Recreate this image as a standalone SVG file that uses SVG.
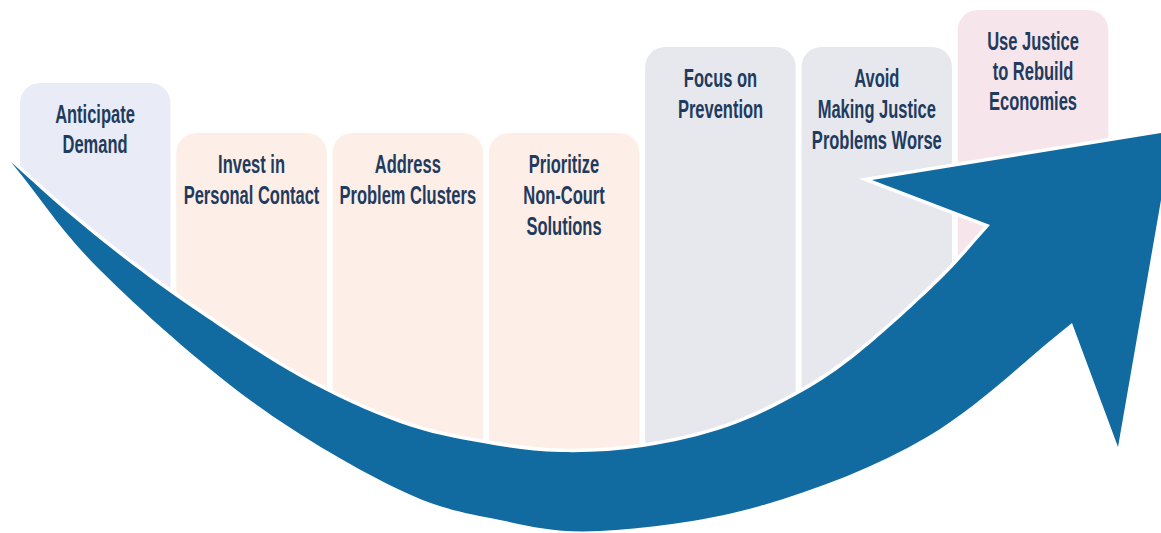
<svg xmlns="http://www.w3.org/2000/svg" width="1161" height="533" viewBox="0 0 1161 533">
  <style>
    .card-blue { fill: #E9ECF6; }
    .card-peach { fill: #FDEEE7; }
    .card-grey { fill: #E7E8EE; }
    .card-pink { fill: #F6E6EC; }
    .label { font-family: "Liberation Sans", Arial, sans-serif; font-size: 25px; font-weight: bold; fill: #1F3B5E; text-anchor: middle; }
    .arrow-halo { fill: #FFFFFF; stroke: #FFFFFF; stroke-width: 7; stroke-linejoin: miter; stroke-miterlimit: 10; }
    .arrow-body { fill: #126BA0; }
  </style>
  <defs>
    <!-- sweep arrow outline: tail, inner edge, head, outer edge -->
    <path id="sweep" d="M11,162
      C29.7,178.7 46.7,194.8 67,212
      C87.3,229.2 110.8,248.2 133,265
      C155.2,281.8 172.2,294.3 200,313
      C227.8,331.7 266.7,358.7 300,377
      C333.3,395.3 369.5,412 400,423
      C430.5,434 456.3,438.2 483,443
      C509.7,447.8 533.3,451.3 560,452
      C586.7,452.7 615.2,451.2 643,447
      C670.8,442.8 700.8,436 727,427
      C753.2,418 777.8,405.5 800,393
      C822.2,380.5 836.7,370.8 860,352
      C883.3,333.2 918.3,301.2 940,280
      C961.7,258.8 973.3,243.3 990,225
      L872,180 L1173,131 L1118,447 L1072,323
      C1023.7,361 979,406.5 927,437
      C875,467.5 814.5,490.3 760,506
      C705.5,521.7 643.3,528.7 600,531
      C556.7,533.3 533.3,526.8 500,520
      C466.7,513.2 441.7,510 400,490
      C358.3,470 300,436.7 250,400
      C200,363.3 139.8,309.7 100,270
      C60.2,230.3 40.7,198 11,162 Z"/>
    <!-- cards stop at the inner edge of the sweep -->
    <clipPath id="above-sweep">
      <path d="M0,0 H1161 V133 L872,180 L990,225
        C973.3,243.3 961.7,258.8 940,280
        C918.3,301.2 883.3,333.2 860,352
        C836.7,370.8 822.2,380.5 800,393
        C777.8,405.5 753.2,418 727,427
        C700.8,436 670.8,442.8 643,447
        C615.2,451.2 586.7,452.7 560,452
        C533.3,451.3 509.7,447.8 483,443
        C456.3,438.2 430.5,434 400,423
        C369.5,412 333.3,395.3 300,377
        C266.7,358.7 227.8,331.7 200,313
        C172.2,294.3 155.2,281.8 133,265
        C110.8,248.2 87.3,229.2 67,212
        C46.7,194.8 29.7,178.7 11,162 L0,162 Z"/>
    </clipPath>
  </defs>

  <rect width="1161" height="533" fill="#FFFFFF"/>

  <g clip-path="url(#above-sweep)">
    <g id="anticipate-demand">
      <path class="card-blue" d="M20,103 a20,20 0 0 1 20,-20 h110.5 a20,20 0 0 1 20,20 V533 H20 Z"/>
      <text class="label" transform="translate(95 0) scale(0.66 1)"><tspan x="0" y="123">Anticipate</tspan><tspan x="0" y="153">Demand</tspan></text>
    </g>
    <g id="invest-personal-contact">
      <path class="card-peach" d="M176.3,153 a20,20 0 0 1 20,-20 h110.5 a20,20 0 0 1 20,20 V533 H176.3 Z"/>
      <text class="label" transform="translate(251.5 0) scale(0.66 1)"><tspan x="0" y="173">Invest in</tspan><tspan x="0" y="204">Personal Contact</tspan></text>
    </g>
    <g id="address-problem-clusters">
      <path class="card-peach" d="M332.6,153 a20,20 0 0 1 20,-20 h110.5 a20,20 0 0 1 20,20 V533 H332.6 Z"/>
      <text class="label" transform="translate(407.8 0) scale(0.66 1)"><tspan x="0" y="173">Address</tspan><tspan x="0" y="204">Problem Clusters</tspan></text>
    </g>
    <g id="prioritize-non-court">
      <path class="card-peach" d="M488.9,153 a20,20 0 0 1 20,-20 h110.5 a20,20 0 0 1 20,20 V533 H488.9 Z"/>
      <text class="label" transform="translate(564 0) scale(0.66 1)"><tspan x="0" y="173">Prioritize</tspan><tspan x="0" y="204">Non-Court</tspan><tspan x="0" y="235">Solutions</tspan></text>
    </g>
    <g id="focus-prevention">
      <path class="card-grey" d="M645.2,67 a20,20 0 0 1 20,-20 h110.5 a20,20 0 0 1 20,20 V533 H645.2 Z"/>
      <text class="label" transform="translate(720.5 0) scale(0.66 1)"><tspan x="0" y="87">Focus on</tspan><tspan x="0" y="118">Prevention</tspan></text>
    </g>
    <g id="avoid-making-worse">
      <path class="card-grey" d="M801.5,67 a20,20 0 0 1 20,-20 h110.5 a20,20 0 0 1 20,20 V533 H801.5 Z"/>
      <text class="label" transform="translate(876.8 0) scale(0.66 1)"><tspan x="0" y="87">Avoid</tspan><tspan x="0" y="118">Making Justice</tspan><tspan x="0" y="149">Problems Worse</tspan></text>
    </g>
    <g id="rebuild-economies">
      <path class="card-pink" d="M957.8,30 a20,20 0 0 1 20,-20 h110.5 a20,20 0 0 1 20,20 V533 H957.8 Z"/>
      <text class="label" transform="translate(1033 0) scale(0.66 1)"><tspan x="0" y="50">Use Justice</tspan><tspan x="0" y="80">to Rebuild</tspan><tspan x="0" y="110">Economies</tspan></text>
    </g>
  </g>

  <g id="connectors">
    <use href="#sweep" class="arrow-halo"/>
    <use href="#sweep" class="arrow-body"/>
  </g>
</svg>
